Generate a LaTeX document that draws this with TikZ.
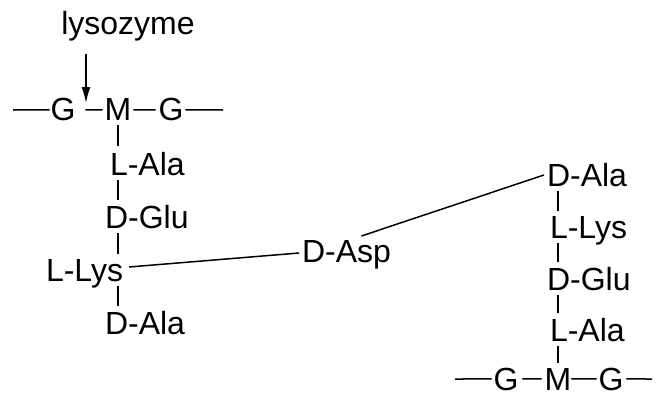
\documentclass[tikz,border=0pt]{standalone}
\usepackage{fontspec}
\setmainfont{Liberation Sans}
\usetikzlibrary{calc,arrows.meta}
\begin{document}
\begin{tikzpicture}[x=1pt,y=-1pt,
  lbl/.style={inner sep=0pt,outer sep=0pt,font=\fontsize{32}{38}\selectfont},
  bond/.style={line width=1.5pt},
  vbond/.style={bond,shorten <=5pt,shorten >=5pt}]
\useasboundingbox (0,0) rectangle (656,396);

% enzyme label and cleavage arrow
\node[lbl,anchor=base] (lyso) at (128,35) {lysozyme};
\coordinate (cut) at (86,103);
\draw[bond,-{Latex[length=16pt,width=9pt]}] (86,54) -- (cut);

% first glycan strand and its stem peptide
\node[lbl,anchor=base] (g1) at (63,121) {G};
\node[lbl,anchor=base] (m1) at (118,121) {M};
\node[lbl,anchor=base] (g2) at (171,121) {G};
\node[lbl,anchor=base west] (lala1) at (110,175) {L-Ala};
\node[lbl,anchor=base west] (dglu1) at (105,228) {D-Glu};
\node[lbl,anchor=base west] (llys1) at (46,281) {L-Lys};
\node[lbl,anchor=base west] (dala1) at (105,334) {D-Ala};

\coordinate (t1a) at (13,110);
\coordinate (t1b) at (223,110);
\draw[bond] (t1a) -- ($(g1.west)+(-1,0)$);
\draw[bond] ($(g1.east)+(10,0)$) -- ($(m1.west)+(-2,0)$);
\draw[bond] ($(m1.east)+(2,0)$) -- ($(g2.west)+(-3,0)$);
\draw[bond] ($(g2.east)+(2,0)$) -- (t1b);

\draw[bond,shorten <=4pt,shorten >=6pt] (m1.south) -- (m1.south |- lala1.north);
\draw[vbond] (m1.south |- lala1.base) -- (m1.south |- dglu1.north);
\draw[vbond] (m1.south |- dglu1.base) -- (m1.south |- llys1.north);
\draw[vbond] (m1.south |- llys1.base) -- (m1.south |- dala1.north);

% D-Asp cross-bridge
\node[lbl,anchor=base west] (asp) at (302,262) {D-Asp};
\draw[bond] ($(llys1.base east)+(6,-14)$) -- ($(asp.base west)+(-3,-9)$);

% second glycan strand and its stem peptide
\node[lbl,anchor=base west] (dala2) at (547,186) {D-Ala};
\node[lbl,anchor=base west] (llys2) at (550,238) {L-Lys};
\node[lbl,anchor=base west] (dglu2) at (547,290) {D-Glu};
\node[lbl,anchor=base west] (lala2) at (550,341) {L-Ala};
\node[lbl,anchor=base] (g3) at (506,390) {G};
\node[lbl,anchor=base] (m2) at (558,390) {M};
\node[lbl,anchor=base] (g4) at (611,390) {G};

\draw[bond] ($(asp.north)+(15,-4)$) -- ($(dala2.base west)+(-3,-11)$);

\coordinate (t2a) at (455,379);
\coordinate (t2b) at (652,379);
\draw[bond] (t2a) -- ($(g3.west)+(-2,0)$);
\draw[bond] ($(g3.east)+(4,0)$) -- ($(m2.west)+(-3,0)$);
\draw[bond] (m2.east) -- ($(g4.west)+(-2,0)$);
\draw[bond] ($(g4.east)+(3,0)$) -- (t2b);

\draw[vbond] (m2.north |- dala2.base) -- (m2.north |- llys2.north);
\draw[vbond] (m2.north |- llys2.base) -- (m2.north |- dglu2.north);
\draw[vbond] (m2.north |- dglu2.base) -- (m2.north |- lala2.north);
\draw[vbond] (m2.north |- lala2.base) -- (m2.north);
\end{tikzpicture}
\end{document}
